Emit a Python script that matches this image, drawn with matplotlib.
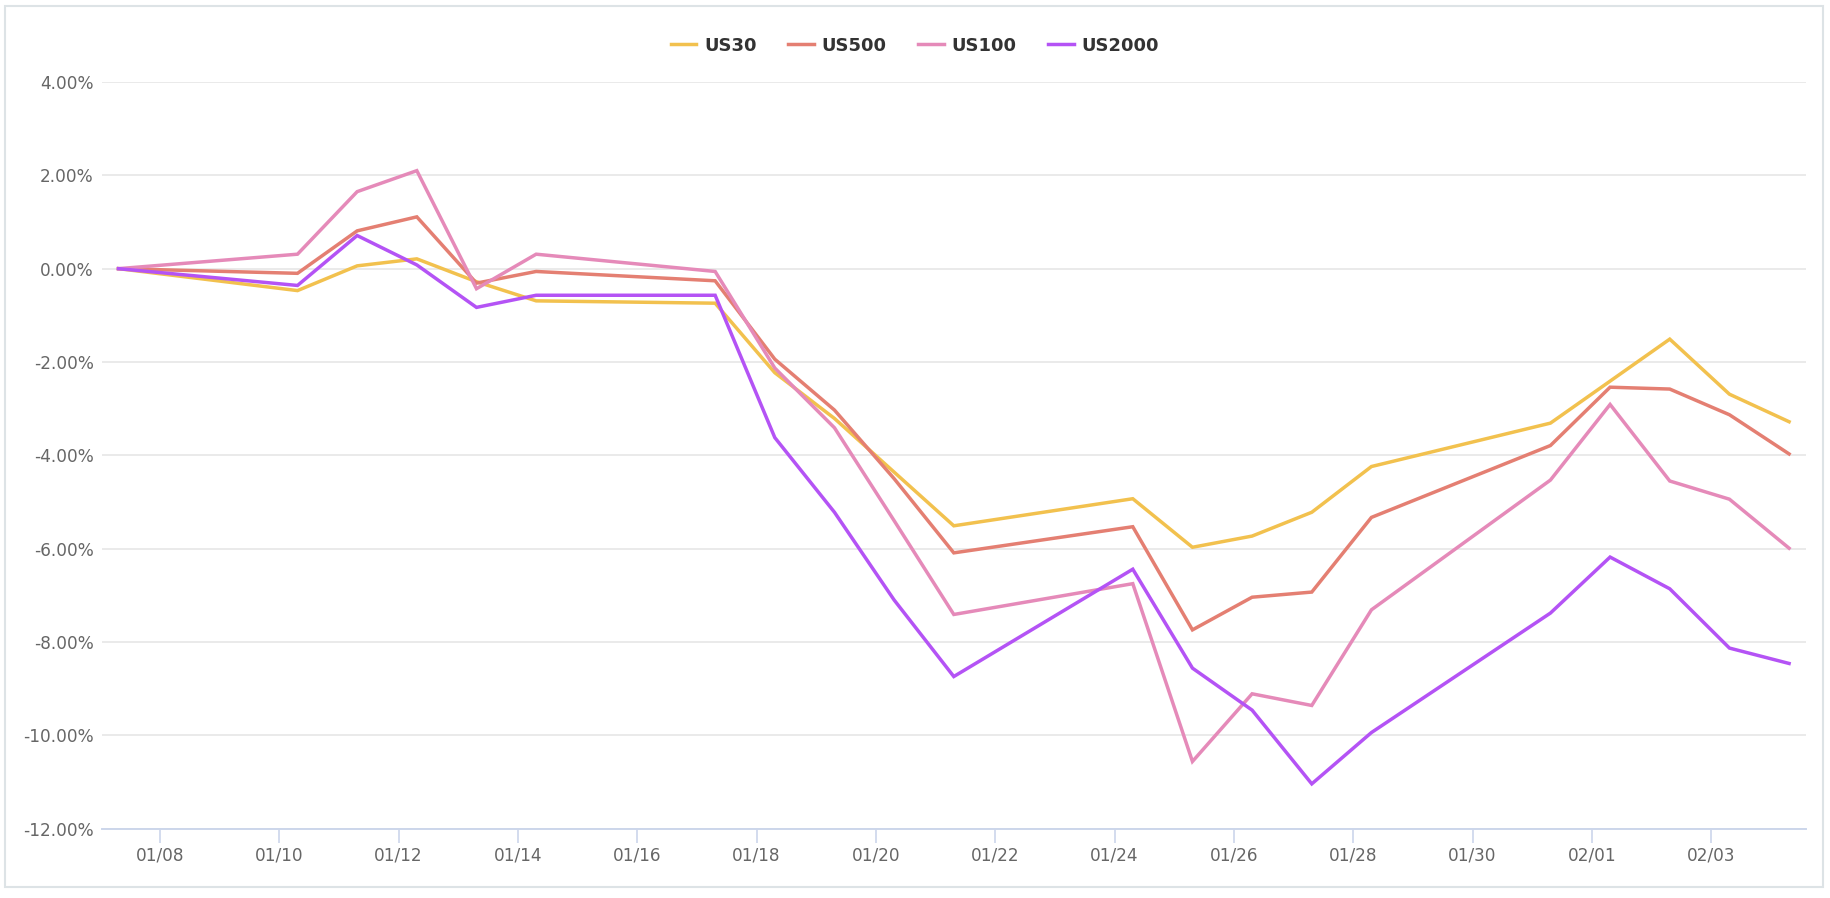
import pandas as pd
import matplotlib
matplotlib.use("Agg")
import matplotlib.pyplot as plt
import matplotlib.dates as mdates
from matplotlib.ticker import FuncFormatter, MultipleLocator
from matplotlib.patches import Rectangle

# trading days (points sit at ~07:20 each day)
dates = ["2022-01-07", "2022-01-10", "2022-01-11", "2022-01-12", "2022-01-13",
         "2022-01-14", "2022-01-17", "2022-01-18", "2022-01-19", "2022-01-20",
         "2022-01-21", "2022-01-24", "2022-01-25", "2022-01-26", "2022-01-27",
         "2022-01-28", "2022-01-31", "2022-02-01", "2022-02-02", "2022-02-03",
         "2022-02-04"]

# cumulative change in %
us30 = [0.00, -0.47, 0.06, 0.21, -0.28, -0.69, -0.74, -2.23, -3.21, -4.36,
        -5.51, -4.93, -5.97, -5.73, -5.22, -4.24, -3.31, -2.41, -1.51, -2.69,
        -3.28]
us500 = [0.00, -0.10, 0.81, 1.11, -0.31, -0.06, -0.26, -1.94, -3.03, -4.50,
         -6.09, -5.53, -7.74, -7.04, -6.93, -5.33, -3.79, -2.54, -2.58, -3.13,
         -3.97]
us100 = [0.00, 0.31, 1.65, 2.10, -0.43, 0.31, -0.06, -2.13, -3.41, -5.40,
         -7.41, -6.75, -10.56, -9.11, -9.36, -7.31, -4.53, -2.91, -4.55, -4.94,
         -5.99]
us2000 = [0.00, -0.36, 0.71, 0.08, -0.83, -0.57, -0.57, -3.62, -5.22, -7.10,
          -8.74, -6.44, -8.56, -9.46, -11.04, -9.94, -7.38, -6.18, -6.86, -8.13,
          -8.46]

names = ["US30", "US500", "US100", "US2000"]
colors = ["#f2c14e", "#e47f72", "#e58ab9", "#b453f5"]

x = pd.to_datetime(dates) + pd.Timedelta(hours=7, minutes=20)

fig = plt.figure(figsize=(18.3, 8.98), dpi=100)
ax = fig.add_axes([0.0557, 0.0772, 0.931, 0.8315])

for name, vals, c in zip(names, [us30, us500, us100, us2000], colors):
    ax.plot(x, vals, color=c, lw=2.5, label=name, solid_joinstyle="miter")

pad = pd.Timedelta(hours=6, minutes=40)
ax.set_xlim(x[0] - pad, x[-1] + pad)
ax.set_ylim(-12, 4)

ax.yaxis.set_major_locator(MultipleLocator(2))
ax.yaxis.set_major_formatter(FuncFormatter(lambda v, p: "%.2f%%" % v))
ax.xaxis.set_major_locator(mdates.DayLocator(bymonthday=[8, 10, 12, 14, 16, 18, 20, 22, 24, 26, 28, 30, 1, 3]))
ax.xaxis.set_major_formatter(mdates.DateFormatter("%m/%d"))

ax.grid(axis="y", color="#e6e6e6", lw=1.2)
ax.set_axisbelow(True)
for s in ["top", "right", "left"]:
    ax.spines[s].set_visible(False)
ax.spines["bottom"].set_color("#ccd6eb")
ax.spines["bottom"].set_linewidth(1.4)

ax.tick_params(axis="y", length=0, pad=6, labelsize=12.2, labelcolor="#666666")
ax.tick_params(axis="x", length=10, width=1.2, color="#ccd6eb", pad=3,
               labelsize=12.2, labelcolor="#666666")

fig.legend(loc="center", bbox_to_anchor=(0.5, 0.949), ncol=4, frameon=False,
           prop={"size": 13, "weight": "bold"}, labelcolor="#333333",
           handlelength=1.4, handletextpad=0.45, columnspacing=1.75)

# outer frame
fig.patches.append(Rectangle((0.0026, 0.0125), 0.9934, 0.981, transform=fig.transFigure,
                             fill=False, edgecolor="#dde3e6", lw=1.5))

fig.savefig("out.png", dpi=100, facecolor="white")
